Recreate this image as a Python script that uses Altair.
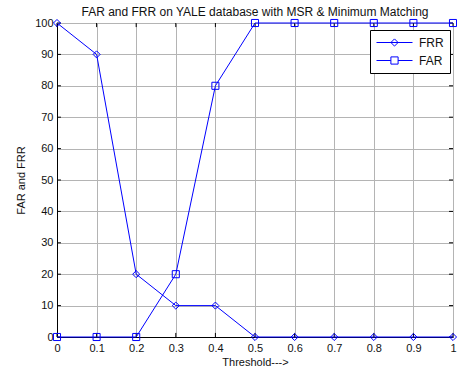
import altair as alt
import pandas as pd

thresholds = [0.0, 0.1, 0.2, 0.3, 0.4, 0.5, 0.6, 0.7, 0.8, 0.9, 1.0]
frr = [100, 90, 20, 10, 10, 0, 0, 0, 0, 0, 0]
far = [0, 0, 0, 20, 80, 100, 100, 100, 100, 100, 100]
series_names = ["FRR", "FAR"]
x_ticks = [0.0, 0.1, 0.2, 0.3, 0.4, 0.5, 0.6, 0.7, 0.8, 0.9, 1.0]
y_ticks = [0, 10, 20, 30, 40, 50, 60, 70, 80, 90, 100]

rows = []
for t, a in zip(thresholds, frr):
    rows.append({"Threshold": t, "value": a, "series": "FRR", "lg": "FRR"})
for t, b in zip(thresholds, far):
    rows.append({"Threshold": t, "value": b, "series": "FAR", "lg": "FAR"})
df = pd.DataFrame(rows)

# inside tick stubs (MATLAB style), about 4 px long in data units
xt = pd.DataFrame({"Threshold": x_ticks * 2,
                   "value": [0] * len(x_ticks) + [100 - 1.3] * len(x_ticks),
                   "value2": [1.3] * len(x_ticks) + [100] * len(x_ticks)})
yt = pd.DataFrame({"value": y_ticks * 2,
                   "Threshold": [0] * len(y_ticks) + [0.99] * len(y_ticks),
                   "Threshold2": [0.01] * len(y_ticks) + [1.0] * len(y_ticks)})

FONT = "Liberation Sans"
BLUE = "#0000ff"
TXT = "#111111"

xscale = alt.Scale(domain=[0, 1], nice=False)
yscale = alt.Scale(domain=[0, 100], nice=False)
xaxis = alt.Axis(values=x_ticks, format=".1~f", title="Threshold--->",
                 grid=True, gridColor="#b4b4b4", gridWidth=1,
                 ticks=False, domainColor="black", labelOverlap=False, labelBound=False,
                 labelFlush=False,
                 labelFont=FONT, labelFontSize=11, labelColor=TXT,
                 labelPadding=5, titleFont=FONT, titleFontSize=11,
                 titleFontWeight="normal", titleColor=TXT, titlePadding=3)
yaxis = alt.Axis(values=y_ticks, title="FAR and FRR",
                 grid=True, gridColor="#b4b4b4", gridWidth=1,
                 ticks=False, domainColor="black", labelOverlap=False, labelBound=False,
                 labelFlush=False,
                 labelFont=FONT, labelFontSize=11, labelColor=TXT,
                 labelPadding=4, titleFont=FONT, titleFontSize=11,
                 titleFontWeight="normal", titleColor=TXT, titlePadding=8)

def X(field="Threshold"):
    return alt.X(f"{field}:Q", scale=xscale, axis=xaxis)

def Y(field="value"):
    return alt.Y(f"{field}:Q", scale=yscale, axis=yaxis)

base = alt.Chart(df)

xticks_layer = alt.Chart(xt).mark_rule(color="black", strokeWidth=1).encode(
    x=X(), y=Y(), y2="value2:Q")
yticks_layer = alt.Chart(yt).mark_rule(color="black", strokeWidth=1).encode(
    y=Y(), x=X(), x2="Threshold2:Q")

lines = base.mark_line(color=BLUE, strokeWidth=1).encode(
    x=X(), y=Y(), detail="series:N")

points = base.mark_point(color=BLUE, filled=False, strokeWidth=1, size=50, opacity=1).encode(
    x=X(), y=Y(),
    shape=alt.Shape("series:N",
                    scale=alt.Scale(domain=series_names, range=["diamond", "square"]),
                    legend=None))

legend_layer = base.mark_point(opacity=0, size=1).encode(
    x=X(), y=Y(),
    shape=alt.Shape("lg:N",
                    scale=alt.Scale(domain=series_names, range=[
                        "M-1,0H5M2,-0.6L2.6,0L2,0.6L1.4,0Z",
                        "M-1,0H1.4M2.6,0H5M1.4,-0.6H2.6V0.6H1.4Z"]),
                    legend=alt.Legend(title=None, orient="none", legendX=313, legendY=7,
                                      symbolSize=144, symbolStrokeColor=BLUE,
                                      symbolFillColor="transparent", symbolStrokeWidth=1,
                                      symbolOpacity=1,
                                      labelFont=FONT, labelFontSize=12, labelColor=TXT,
                                      fillColor="white", strokeColor="black",
                                      padding=6, rowPadding=5, labelOffset=30,
                                      symbolOffset=0)))

chart = alt.layer(xticks_layer, yticks_layer, lines, points, legend_layer).resolve_scale(
    shape="independent").properties(
    width=396, height=314,
    title=alt.Title("FAR and FRR on YALE database with MSR & Minimum Matching",
                    font=FONT, fontSize=12, fontWeight="normal", color=TXT, offset=0, dy=2),
    autosize=alt.AutoSizeParams(type="none"),
    padding={"left": 57, "top": 23, "right": 4, "bottom": 37},
).configure_view(stroke="black", strokeWidth=1).configure(background="white")

chart.save("out.html", embed_options={"renderer": "svg", "actions": False})
